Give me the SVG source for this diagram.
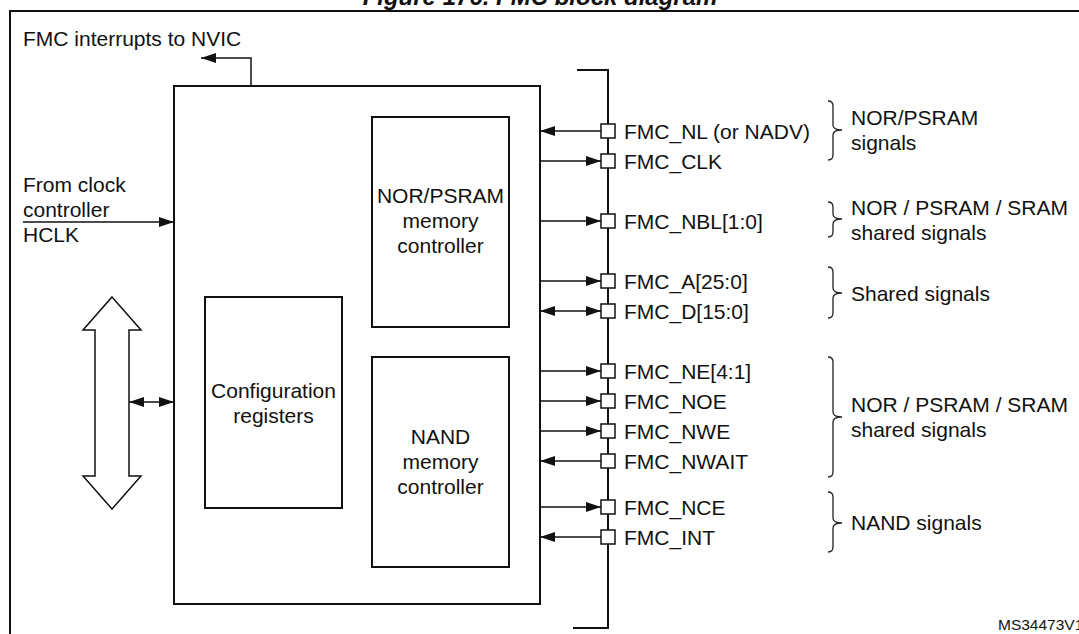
<svg xmlns="http://www.w3.org/2000/svg" width="1079" height="634" viewBox="0 0 1079 634">
<style>
  text { font-family: "Liberation Sans", Arial, sans-serif; font-size: 21px; fill: #111; }
  .title { font-weight: bold; font-style: italic; font-size: 24px; }
  .box { fill: #fff; stroke: #111; stroke-width: 2; }
  .wire { fill: none; stroke: #111; stroke-width: 1.5; }
  .bus { fill: none; stroke: #111; stroke-width: 2; }
  .pin { fill: #fff; stroke: #111; stroke-width: 1.5; }
  .brace { fill: none; stroke: #222; stroke-width: 1.3; }
  .c { text-anchor: middle; }
  .small { font-size: 15.5px; }
</style>
<defs>
  <marker id="ah" viewBox="0 0 15 10" refX="15" refY="5" markerWidth="15" markerHeight="10" markerUnits="userSpaceOnUse" orient="auto-start-reverse">
    <path d="M0,0 L15,5 L0,10 Z" fill="#111"/>
  </marker>
</defs>
<rect width="1079" height="634" fill="#fff"/>
<text class="title c" x="540" y="5">Figure 176. FMC block diagram</text>
<path id="frame" d="M10,700 V11 H1100" fill="none" stroke="#111" stroke-width="2"/>

<g id="main-box"><rect class="box" x="174" y="86" width="366" height="518"/></g>
<g id="nor-ctrl">
  <rect class="box" x="372" y="117" width="137" height="210"/>
  <text class="c" x="440.5" y="203">NOR/PSRAM</text>
  <text class="c" x="440.5" y="228">memory</text>
  <text class="c" x="440.5" y="253">controller</text>
</g>
<g id="config-regs">
  <rect class="box" x="205" y="297" width="137" height="211"/>
  <text class="c" x="273.5" y="398">Configuration</text>
  <text class="c" x="273.5" y="423">registers</text>
</g>
<g id="nand-ctrl">
  <rect class="box" x="372" y="357" width="137" height="210"/>
  <text class="c" x="440.5" y="444">NAND</text>
  <text class="c" x="440.5" y="469">memory</text>
  <text class="c" x="440.5" y="494">controller</text>
</g>
<g id="system-bus">
  <path d="M112,297 L141,330 L129,330 L129,476 L141,476 L112,509 L83,476 L95,476 L95,330 L83,330 Z" fill="#fff" stroke="#111" stroke-width="1.5"/>
</g>
<g id="clock-label">
  <text x="23" y="192">From clock</text>
  <text x="23" y="217">controller</text>
  <text x="23" y="242">HCLK</text>
</g>
<g id="nvic-label"><text x="23" y="46">FMC interrupts to NVIC</text></g>

<g id="bus-bracket">
  <path class="bus" d="M577,70 H608 V628 H573"/>
</g>

<g id="connectors">
  <path class="wire" d="M251,86 V58 H201" marker-end="url(#ah)"/>
  <path class="wire" d="M23,222 H174" marker-end="url(#ah)"/>
  <path class="wire" d="M129,402 H174" marker-start="url(#ah)" marker-end="url(#ah)"/>
  <path class="wire" d="M601,131 H540" marker-end="url(#ah)"/>
  <path class="wire" d="M540,161 H601" marker-end="url(#ah)"/>
  <path class="wire" d="M540,221 H601" marker-end="url(#ah)"/>
  <path class="wire" d="M540,281 H601" marker-end="url(#ah)"/>
  <path class="wire" d="M540,311 H601" marker-start="url(#ah)" marker-end="url(#ah)"/>
  <path class="wire" d="M540,371 H601" marker-end="url(#ah)"/>
  <path class="wire" d="M540,401 H601" marker-end="url(#ah)"/>
  <path class="wire" d="M540,431 H601" marker-end="url(#ah)"/>
  <path class="wire" d="M601,461 H540" marker-end="url(#ah)"/>
  <path class="wire" d="M540,507 H601" marker-end="url(#ah)"/>
  <path class="wire" d="M601,537 H540" marker-end="url(#ah)"/>
</g>

<g id="pins">
  <rect class="pin" x="601" y="124" width="14" height="14"/>
  <rect class="pin" x="601" y="154" width="14" height="14"/>
  <rect class="pin" x="601" y="214" width="14" height="14"/>
  <rect class="pin" x="601" y="274" width="14" height="14"/>
  <rect class="pin" x="601" y="304" width="14" height="14"/>
  <rect class="pin" x="601" y="364" width="14" height="14"/>
  <rect class="pin" x="601" y="394" width="14" height="14"/>
  <rect class="pin" x="601" y="424" width="14" height="14"/>
  <rect class="pin" x="601" y="454" width="14" height="14"/>
  <rect class="pin" x="601" y="500" width="14" height="14"/>
  <rect class="pin" x="601" y="530" width="14" height="14"/>
</g>
<g id="pin-labels">
  <text x="624" y="139">FMC_NL (or NADV)</text>
  <text x="624" y="169">FMC_CLK</text>
  <text x="624" y="229">FMC_NBL[1:0]</text>
  <text x="624" y="289">FMC_A[25:0]</text>
  <text x="624" y="319">FMC_D[15:0]</text>
  <text x="624" y="379">FMC_NE[4:1]</text>
  <text x="624" y="409">FMC_NOE</text>
  <text x="624" y="439">FMC_NWE</text>
  <text x="624" y="469">FMC_NWAIT</text>
  <text x="624" y="515">FMC_NCE</text>
  <text x="624" y="545">FMC_INT</text>
</g>

<g id="groups">
  <path class="brace" d="M828,101 Q833,101 833,106 V125 Q833,130 842,130 Q833,130 833,135 V155 Q833,160 828,160"/>
  <text x="851" y="125">NOR/PSRAM</text>
  <text x="851" y="150">signals</text>
  <path class="brace" d="M828,202 Q833,202 833,207 V214 Q833,219 842,219 Q833,219 833,224 V232 Q833,237 828,237"/>
  <text x="851" y="215">NOR / PSRAM / SRAM</text>
  <text x="851" y="240">shared signals</text>
  <path class="brace" d="M828,267 Q833,267 833,272 V288 Q833,293 842,293 Q833,293 833,298 V313 Q833,318 828,318"/>
  <text x="851" y="301">Shared signals</text>
  <path class="brace" d="M828,357 Q833,357 833,362 V412 Q833,417 842,417 Q833,417 833,422 V472 Q833,477 828,477"/>
  <text x="851" y="412">NOR / PSRAM / SRAM</text>
  <text x="851" y="437">shared signals</text>
  <path class="brace" d="M828,492 Q833,492 833,497 V518 Q833,523 842,523 Q833,523 833,528 V547 Q833,552 828,552"/>
  <text x="851" y="530">NAND signals</text>
</g>
<text class="small" x="998" y="630">MS34473V1</text>
</svg>
